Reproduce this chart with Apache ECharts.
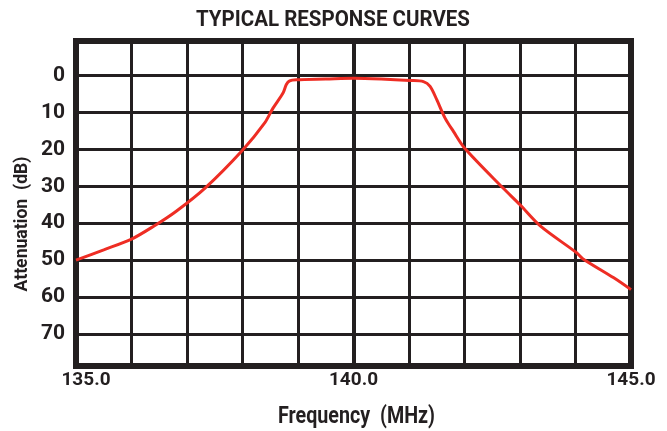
<!DOCTYPE html>
<html><head><meta charset="utf-8">
<script src="https://cdn.jsdelivr.net/npm/echarts@6/dist/echarts.min.js"></script>
<style>html,body{margin:0;padding:0;background:#fff}#c{width:667px;height:431px}</style>
</head><body><div id="c"></div>
<script>
var freqMHz = [135.0, 135.5, 136.0, 136.4, 136.8, 137.33, 138.0, 138.4, 138.55, 138.73, 138.79, 138.85, 138.97, 139.5, 140.0, 140.5, 141.02, 141.26, 141.38, 141.5, 141.65, 141.8, 142.0, 142.69, 143.0, 143.37, 144.02, 144.13, 144.69, 145.0];
var attenDb = [50.0, 47.2, 44.3, 40.8, 36.8, 30.4, 20.2, 12.8, 8.8, 4.7, 2.4, 1.4, 1.1, 0.9, 0.7, 0.9, 1.3, 1.6, 2.9, 6.5, 11.5, 15.1, 19.6, 30.4, 35.0, 40.8, 48.0, 49.6, 54.8, 58.0];
var xTickLabels = {135: '135.0', 140: '140.0', 145: '145.0'};
var yTickLabels = [0, 10, 20, 30, 40, 50, 60, 70];
var titleText = 'TYPICAL RESPONSE CURVES';
var xName = 'Frequency  (MHz)';
var yName = 'Attenuation  (dB)';

var FONT = 'Roboto, "Noto Sans", sans-serif';
var INK = '#231f20';

function fitScale(text, size, target) {
  var ctx = document.createElement('canvas').getContext('2d');
  ctx.font = 'bold ' + size + 'px Roboto';
  var w = ctx.measureText(text).width;
  return Math.min(1, target / w);
}

var chart = echarts.init(document.getElementById('c'), null, {renderer: 'canvas'});
chart.setOption({
  animation: false,
  grid: {left: 76, right: 36, top: 41, bottom: 65, show: true, borderColor: INK, borderWidth: 6},
  graphic: [
    {type: 'text', x: 333, y: 20, scaleX: fitScale(titleText, 22.5, 274), z: 10,
      style: {text: titleText, fontFamily: FONT, fontWeight: 'bold', fontSize: 22.5, fill: INK, align: 'center', verticalAlign: 'middle'}},
    {type: 'text', x: 356.5, y: 417, scaleX: fitScale(xName, 23, 157), z: 10,
      style: {text: xName, fontFamily: FONT, fontWeight: 'bold', fontSize: 23, fill: INK, align: 'center', verticalAlign: 'middle'}},
    {type: 'text', x: 22, y: 224, rotation: Math.PI / 2, scaleX: fitScale(yName, 18, 135), z: 10,
      style: {text: yName, fontFamily: FONT, fontWeight: 'bold', fontSize: 18, fill: INK, align: 'center', verticalAlign: 'middle'}}
  ],
  xAxis: {type: 'value', min: 135, max: 145, interval: 1,
    axisLine: {show: false}, axisTick: {show: false},
    axisLabel: {margin: 5, fontFamily: FONT, fontWeight: 'bold', fontSize: 19, color: INK,
      formatter: function (v) {
        var t = xTickLabels[Math.round(v)] || '';
        return Math.round(v) === 135 ? '{first|' + t + '}' : t;
      },
      rich: {first: {fontFamily: FONT, fontWeight: 'bold', fontSize: 19, color: INK, padding: [0, 0, 0, 20]}}},
    splitLine: {show: true, lineStyle: {color: INK, width: 3}}},
  yAxis: {type: 'value', inverse: true, min: -9.4, max: 78.7,
    axisLine: {show: false}, axisTick: {show: false},
    axisLabel: {margin: 11, fontFamily: FONT, fontWeight: 'bold', fontSize: 21, color: INK,
      customValues: yTickLabels, showMinLabel: true, showMaxLabel: true},
    splitLine: {show: false}},
  series: [
    {type: 'line', data: [], z: 1, silent: true,
      markLine: {silent: true, symbol: 'none', label: {show: false}, animation: false,
        lineStyle: {color: INK, width: 3, type: 'solid'},
        data: yTickLabels.map(function (v) { return {yAxis: v}; }).concat([
          {xAxis: 140, lineStyle: {color: INK, width: 4, type: 'solid'}}])}},
    {type: 'line', smooth: 0.3, symbol: 'none', z: 5,
      data: freqMHz.map(function (f, i) { return [f, attenDb[i]]; }),
      lineStyle: {color: '#ee2d24', width: 3}}
  ]
});
</script></body></html>
